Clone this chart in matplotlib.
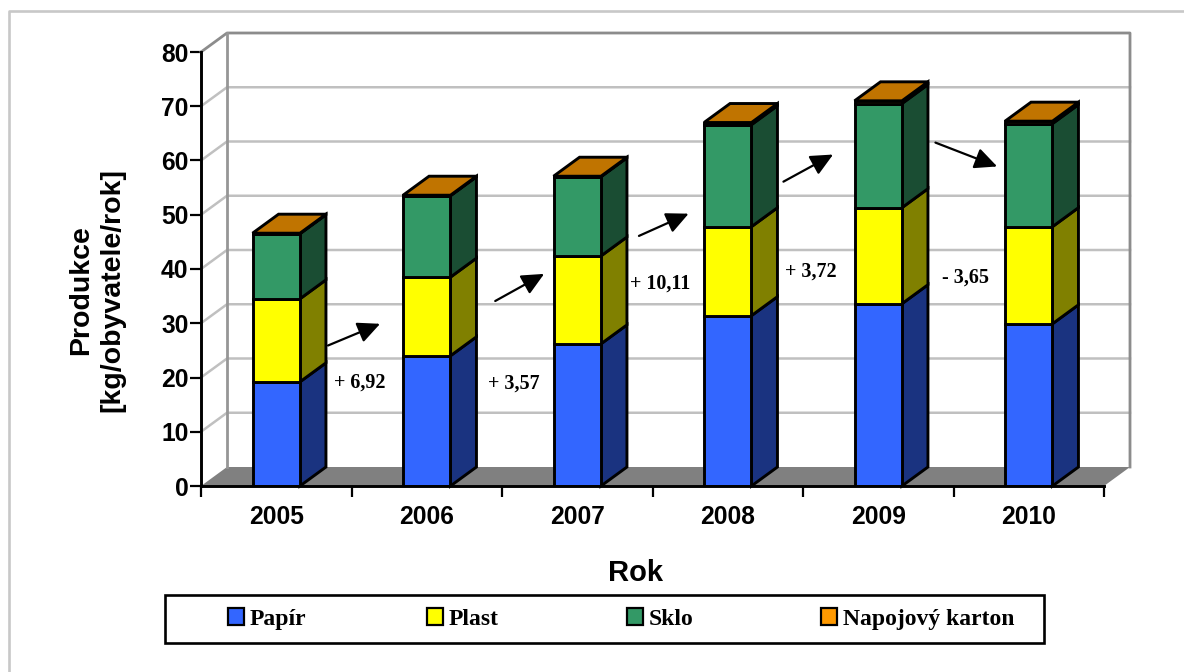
import numpy as np
import matplotlib
matplotlib.use("Agg")
import matplotlib.pyplot as plt
from matplotlib.lines import Line2D
from matplotlib.patches import Polygon, Rectangle, Patch

W, H = 1184, 672

roky = ["2005", "2006", "2007", "2008", "2009", "2010"]
papir = [19.2, 24.0, 26.2, 31.4, 33.6, 29.9]
plast = [15.3, 14.5, 16.2, 16.4, 17.7, 17.9]
sklo = [12.0, 15.0, 14.6, 18.8, 19.2, 19.0]
karton = [0.1, 0.1, 0.1, 0.4, 0.5, 0.45]

nazvy = ["Papír", "Plast", "Sklo", "Napojový karton"]
barvy = ["#3366FF", "#FFFF00", "#339966", "#FF9900"]
barvy_bok = ["#1A3380", "#808000", "#1A4D33", "#804D00"]
barva_vrch = "#C07400"

# rozdily mezi roky: text, poloha textu, zacatek a konec sipky
rozdily = ["+ 6,92", "+ 3,57", "+ 10,11", "+ 3,72", "- 3,65"]
text_x = [0.557, 1.58, 2.55, 3.55, 4.58]
text_y = [19.1, 18.9, 37.4, 39.6, 38.4]
sipka_od = [(0.344, 25.9), (1.455, 34.1), (2.41, 46.1), (3.37, 56.1), (4.38, 63.3)]
sipka_do = [(0.69, 29.9), (1.78, 39.1), (2.74, 50.2), (3.70, 61.1), (4.79, 58.9)]

plt.rcParams["font.family"] = ["Liberation Sans", "DejaVu Sans"]
SERIF = ["Liberation Serif", "DejaVu Serif"]

fig = plt.figure(figsize=(W / 100, H / 100), dpi=100)

# ramecek: jen nahore a vlevo, dal je obrazek oriznuty
fig.add_artist(Line2D([9 / W, 9 / W, 1], [0, 1 - 11 / H, 1 - 11 / H], color="#c8c8c8", lw=1.9))

# osa v pixelech: x 201-1104, y 486-52
ax = fig.add_axes([201 / W, 1 - 486 / H, 903 / W, 434 / H])
ax.set_xlim(-0.5, 5.5)
ax.set_ylim(0, 80)
ax.patch.set_alpha(0)

hloubka_x = 26 / (903 / 6)
hloubka_y = 19 / (434 / 80)
sirka = 0.315
x = np.arange(len(roky))

# zadni stena, podlaha a mrizka
x0, x1 = -0.5, 5.5
for v in range(10, 80, 10):
    ax.plot([x0, x0 + hloubka_x, x1 + hloubka_x], [v, v + hloubka_y, v + hloubka_y],
            color="#c0c0c0", lw=1.8, clip_on=False, zorder=1)
ax.add_patch(Polygon([(x0, 0), (x0 + hloubka_x, hloubka_y), (x1 + hloubka_x, hloubka_y), (x1, 0)],
                     facecolor="#808080", edgecolor="none", clip_on=False, zorder=1.5))
ax.plot([x0, x0 + hloubka_x, x1 + hloubka_x, x1 + hloubka_x],
        [80, 80 + hloubka_y, 80 + hloubka_y, hloubka_y],
        color="#8c8c8c", lw=2, clip_on=False, zorder=2)
ax.plot([x0 + hloubka_x, x0 + hloubka_x], [hloubka_y, 80 + hloubka_y],
        color="#969696", lw=2, clip_on=False, zorder=2)

# sloupce
spodek = np.zeros(len(roky))
for rada, barva, bok in zip([papir, plast, sklo, karton], barvy, barvy_bok):
    rada = np.array(rada)
    ax.bar(x, rada, sirka, bottom=spodek, color=barva, edgecolor="black", linewidth=2.1, zorder=4)
    for xi, s, h in zip(x, spodek, rada):
        prava = xi + sirka / 2
        ax.add_patch(Polygon([(prava, s), (prava + hloubka_x, s + hloubka_y),
                              (prava + hloubka_x, s + h + hloubka_y), (prava, s + h)],
                             facecolor=bok, edgecolor="black", linewidth=2.1, clip_on=False, zorder=3))
    spodek = spodek + rada

for xi, v in zip(x, spodek):
    lx, px = xi - sirka / 2, xi + sirka / 2
    ax.add_patch(Polygon([(lx, v), (lx + hloubka_x, v + hloubka_y), (px + hloubka_x, v + hloubka_y), (px, v)],
                         facecolor=barva_vrch, edgecolor="black", linewidth=2.1, clip_on=False, zorder=4))

# popisky rozdilu a sipky
for t, tx, ty in zip(rozdily, text_x, text_y):
    ax.text(tx, ty, t, family=SERIF, fontweight="bold", fontsize=14.5, ha="center", va="center", zorder=6)
for a, b in zip(sipka_od, sipka_do):
    ax.annotate("", xy=b, xytext=a, zorder=6,
                arrowprops=dict(arrowstyle="-|>,head_length=0.85,head_width=0.4", color="black", lw=1.6,
                                shrinkA=0, shrinkB=0, mutation_scale=16))

# osy
for s in ["top", "right"]:
    ax.spines[s].set_visible(False)
for s in ["left", "bottom"]:
    ax.spines[s].set_linewidth(2.1)
    ax.spines[s].set_zorder(5)
ax.set_yticks(np.arange(0, 81, 10))
ax.set_xticks(np.arange(-0.5, 6, 1))
ax.set_xticklabels([])
ax.set_xticks(x, minor=True)
ax.set_xticklabels(roky, minor=True)
ax.tick_params(axis="x", which="major", length=8, width=1.6)
ax.tick_params(axis="x", which="minor", length=0, pad=14, labelsize=17.7)
ax.tick_params(axis="y", length=8, width=1.6, pad=1, labelsize=17.7)
for t in ax.get_yticklabels() + ax.get_xticklabels(minor=True):
    t.set_fontweight("bold")

fig.text(97 / W, 1 - 290 / H, "Produkce\n[kg/obyvatele/rok]", rotation=90, ha="center", va="center",
         fontsize=20.5, fontweight="bold", linespacing=1.28)
fig.text(635 / W, 1 - 573 / H, "Rok", ha="center", va="center", fontsize=21, fontweight="bold")

# legenda: ramecek zvlast a kazda polozka sama, sloupce v originale nemaji stejne mezery
fig.add_artist(Rectangle((165 / W, 1 - 643 / H), 879 / W, 48 / H, transform=fig.transFigure,
                         facecolor="white", edgecolor="black", linewidth=1.9))
legenda_x = [228, 427, 627, 821]
for nazev, barva, lx in zip(nazvy, barvy, legenda_x):
    fig.legend([Patch(facecolor=barva, edgecolor="black", linewidth=1.6)], [nazev],
               loc="center left", bbox_to_anchor=(lx / W, 1 - 619 / H),
               prop=dict(family=SERIF, weight="bold", size=17), frameon=False,
               handlelength=0.68, handleheight=0.68, handletextpad=0.25,
               borderpad=0, borderaxespad=0)

fig.savefig("out.png", dpi=100)
